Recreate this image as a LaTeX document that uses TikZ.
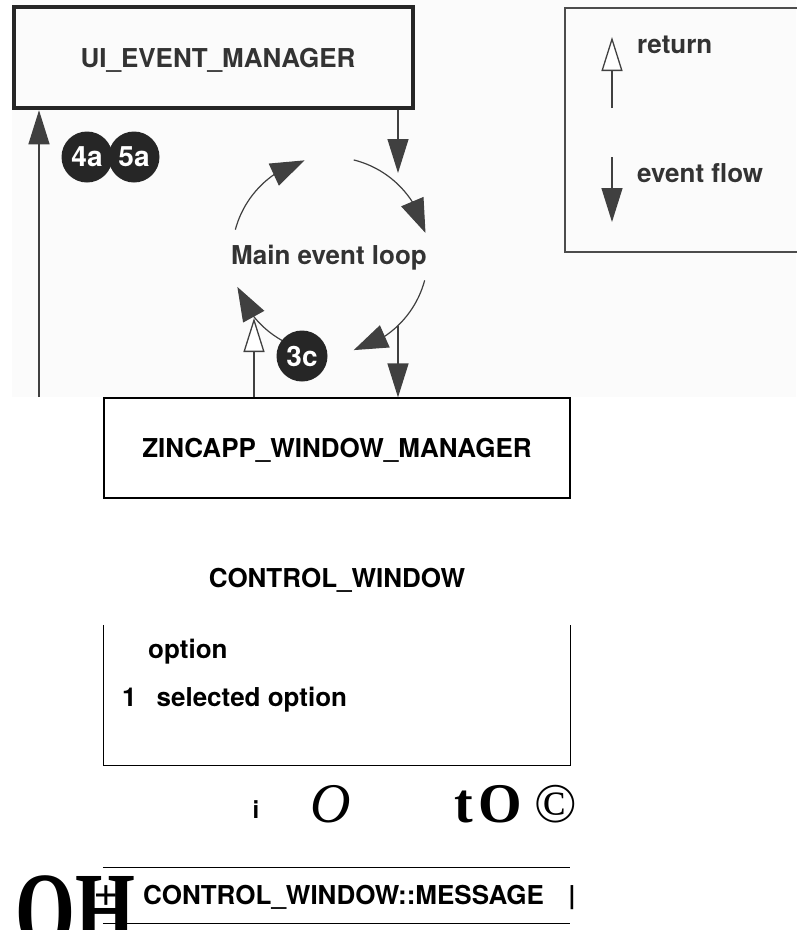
\documentclass[tikz,border=0pt]{standalone}
\usepackage{fontspec}
\setmainfont{TeX Gyre Heros}
\newfontfamily\glyphfont{Liberation Serif}
\usetikzlibrary{arrows.meta, bending, positioning}

\begin{document}
\begin{tikzpicture}[x=1pt, y=-1pt,
    every node/.style={inner sep=0pt,font=\fontsize{26}{30}\selectfont\bfseries},
    scan/.style={text=black!80},
    mgrbox/.style={draw=black!85,line width=4.5pt,minimum width=399pt,minimum height=101pt},
    winbox/.style={draw,line width=1.2pt,minimum width=466pt,minimum height=100pt},
    badge/.style={circle,fill=black!85,text=white,minimum size=51pt,
        font=\fontsize{28}{30}\selectfont\bfseries},
    flow/.style={draw=black!75,line width=1.3pt,-{Triangle[length=34pt,width=21pt]}},
    ret/.style={draw=black!75,line width=1.3pt,-{Triangle[length=34pt,width=21pt,fill=white]}},
    loopline/.style={draw=black!75,line width=1.2pt,-{Triangle[length=34pt,width=24pt]}},
    garble/.style={font=\glyphfont\bfseries\fontsize{56}{60}\selectfont}]
  \useasboundingbox (0,0) rectangle (796,930);
  \fill[black!1.5] (12,0) rectangle (796,397);

  \node[mgrbox] (uiem) at (213.5,57.5) {};
  \node[scan,anchor=base] (uitxt) at (218,67) {UI\_EVENT\_MANAGER};

  \node[draw=black!70,line width=1.8pt,minimum width=262pt,minimum height=244pt] (legend) at (696,130) {};
  \coordinate (retlo) at (612,108);
  \coordinate (rethi) at (612,37);
  \draw[ret] (retlo) -- (rethi);
  \node[scan,anchor=base west] (rettxt) at (637,53) {return};
  \coordinate (flowhi) at (612,157);
  \coordinate (flowlo) at (612,222);
  \draw[flow] (flowhi) -- (flowlo);
  \node[scan,anchor=base west] (flowtxt) at (637,182) {event flow};

  \coordinate (loopc) at (330,255);
  \draw[loopline] ([shift={(165:98pt)}]loopc) arc[start angle=165,end angle=105,radius=98pt];
  \draw[loopline] ([shift={(76:98pt)}]loopc) arc[start angle=76,end angle=13,radius=98pt];
  \draw[loopline] ([shift={(-15:98pt)}]loopc) arc[start angle=-15,end angle=-76,radius=98pt];
  \draw[loopline] ([shift={(-108:98pt)}]loopc) arc[start angle=-108,end angle=-161,radius=98pt];
  \node[scan,anchor=base] (looptxt) at (329,264) {Main event loop};

  \node[winbox] (zwm) at (337,448) {};
  \node[anchor=base] (zwmtxt) at (337,457) {ZINCAPP\_WINDOW\_MANAGER};

  \coordinate (cutl) at (39,397);
  \draw[flow] (cutl) -- (cutl |- uiem.south);
  \coordinate (evin) at (398,173);
  \draw[flow] (uiem.south -| evin) -- (evin);
  \coordinate (evout) at (398,326);
  \draw[flow] (evout) -- (evout |- zwm.north);
  \coordinate (retin) at (254,318);
  \draw[ret] (retin |- zwm.north) -- (retin);

  \node[badge] (b4a) at (87,157) {4a};
  \node[badge] (b5a) at (134,157) {5a};
  \node[badge] (b3c) at (302,356) {3c};

  \node[anchor=base] (cwtitle) at (337,587) {CONTROL\_WINDOW};
  \node[minimum width=466pt,minimum height=140pt] (cwbox) at (337,695) {};
  \draw[line width=1.2pt] (cwbox.north west) -- (cwbox.south west) -- (cwbox.south east) -- (cwbox.north east);
  \node[anchor=base west] (opt) at (148,658) {option};
  \node[anchor=base west] (selopt) at (122,706) {1\hspace{20pt}selected option};

  \node[anchor=base,font=\fontsize{24}{26}\selectfont\bfseries] (gi) at (256,818) {i};
  \node[anchor=base west,font=\glyphfont\itshape\fontsize{56}{60}\selectfont] (go) at (310,822) {O};
  \node[garble,anchor=base west] (gto) at (454,822) {t\hspace{6pt}O};
  \node[garble,anchor=base west] (gc) at (534,822) {\mdseries ©};

  \node[anchor=base west,font=\glyphfont\bfseries\fontsize{110}{120}\selectfont,xscale=0.7] (goh) at (15,948) {OH};
  \node[minimum width=467pt,minimum height=55pt] (msgbox) at (336.5,895.5) {};
  \draw[line width=1.2pt] (msgbox.north west) -- (msgbox.north east);
  \draw[line width=1.2pt] (msgbox.south west) -- (msgbox.south east);
  \node[font=\fontsize{44}{48}\selectfont\mdseries] (gplus) at (106,896) {+};
  \node[anchor=base west] (msgtxt) at (143,904) {CONTROL\_WINDOW::MESSAGE};
  \node[anchor=base] (msgbar) at (572,904) {|};
\end{tikzpicture}
\end{document}
